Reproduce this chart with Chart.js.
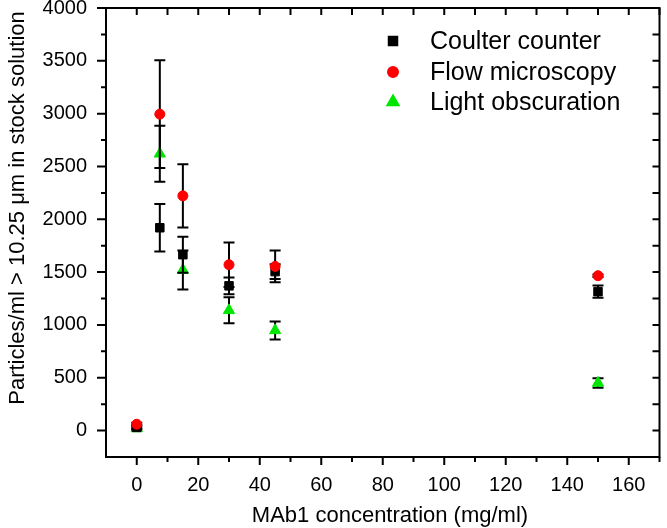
<!DOCTYPE html>
<html>
<head>
<meta charset="utf-8">
<script src="https://cdn.jsdelivr.net/npm/chart.js@4"></script>
<style>
  html, body { margin: 0; padding: 0; background: #fff; }
  canvas { display: block; }
</style>
</head>
<body>
<canvas id="grafico" width="667" height="528"></canvas>
<script>
const concentraciones = [0, 7.5, 15, 30, 45, 150];
const series = ['Coulter counter', 'Flow microscopy', 'Light obscuration'];
const coulter = [30, 1920, 1665, 1370, 1505, 1315];
const coulterErr = [20, 225, 170, 80, 70, 58];
const flow = [60, 2995, 2222, 1570, 1554, 1466];
const flowErr = [15, 510, 300, 210, 150, 12];
const light = [20, 2620, 1520, 1138, 948, 451];
const lightErr = [10, 265, 185, 123, 85, 45];
const xTicks = [0, 20, 40, 60, 80, 100, 120, 140, 160];
const yTicks = [0, 500, 1000, 1500, 2000, 2500, 3000, 3500, 4000];

const FONT = "'Liberation Sans', Arial, sans-serif";
Chart.defaults.font.family = FONT;
Chart.defaults.color = '#000';

function puntos(vals) {
    return concentraciones.map((x, i) => ({ x: x, y: vals[i] }));
}

// barras de error: debajo de los marcadores de cada serie
const barrasError = {
    id: 'barrasError',
    beforeDatasetDraw(chart, args) {
        const ds = chart.data.datasets[args.index];
        const { ctx, scales: { x, y } } = chart;
        ctx.save();
        ctx.strokeStyle = '#000';
        ctx.lineWidth = 2;
        ctx.beginPath();
        ds.data.forEach((p, i) => {
            const px = x.getPixelForValue(p.x);
            const top = y.getPixelForValue(p.y + ds.errores[i]);
            const bot = y.getPixelForValue(p.y - ds.errores[i]);
            ctx.moveTo(px, top); ctx.lineTo(px, bot);
            ctx.moveTo(px - 5.5, top); ctx.lineTo(px + 5.5, top);
            ctx.moveTo(px - 5.5, bot); ctx.lineTo(px + 5.5, bot);
        });
        ctx.stroke();
        ctx.restore();
    }
};

// marco, marcas de los ejes, titulos y leyenda
const marco = {
    id: 'marco',
    afterDraw(chart) {
        const { ctx, chartArea: a, scales: { x, y } } = chart;
        ctx.save();
        ctx.strokeStyle = '#000';
        ctx.lineWidth = 2;
        ctx.strokeRect(a.left, a.top, a.right - a.left, a.bottom - a.top);
        ctx.beginPath();
        for (let v = 0; v <= x.max; v += 10) {
            const px = x.getPixelForValue(v);
            const largo = v % 20 === 0 ? 8 : 5;
            ctx.moveTo(px, a.bottom); ctx.lineTo(px, a.bottom + largo);
            ctx.moveTo(px, a.top); ctx.lineTo(px, a.top + 7);
        }
        for (let v = 0; v <= y.max; v += 250) {
            const py = y.getPixelForValue(v);
            const largo = v % 500 === 0 ? 9 : 5;
            ctx.moveTo(a.left, py); ctx.lineTo(a.left - largo, py);
            ctx.moveTo(a.right, py); ctx.lineTo(a.right - 7, py);
        }
        ctx.stroke();

        // titulos
        ctx.fillStyle = '#000';
        ctx.font = '22px ' + FONT;
        ctx.textAlign = 'center';
        ctx.textBaseline = 'alphabetic';
        ctx.fillText('MAb1 concentration (mg/ml)', 390, 522);
        ctx.save();
        ctx.translate(24, 208);
        ctx.rotate(-Math.PI / 2);
        ctx.fillText('Particles/ml > 10.25 \u03bcm in stock solution', 0, 0);
        ctx.restore();

        // leyenda
        ctx.font = '25px ' + FONT;
        ctx.textAlign = 'left';
        const filas = [49, 80, 110];
        chart.data.datasets.forEach((ds, i) => {
            ctx.fillStyle = ds.backgroundColor;
            ctx.strokeStyle = ds.borderColor;
            Chart.helpers.drawPoint(ctx, {
                pointStyle: ds.pointStyle, radius: ds.pointRadius,
                borderWidth: 1, rotation: 0
            }, 393, filas[i] - 8);
            ctx.fillStyle = '#000';
            ctx.fillText(ds.label, 430, filas[i]);
        });
        ctx.restore();
    }
};

const ctx = document.getElementById('grafico').getContext('2d');
const chart = new Chart(ctx, {
    type: 'scatter',
    data: {
        datasets: [
            { label: series[0], data: puntos(coulter), errores: coulterErr, order: 1,
              pointStyle: 'rect', pointRadius: 6, borderWidth: 1,
              backgroundColor: '#000', borderColor: '#000' },
            { label: series[1], data: puntos(flow), errores: flowErr, order: 0,
              pointStyle: 'circle', pointRadius: 5, borderWidth: 1,
              backgroundColor: '#ff0000', borderColor: '#ff0000' },
            { label: series[2], data: puntos(light), errores: lightErr, order: 2,
              pointStyle: 'triangle', pointRadius: 6.5, borderWidth: 1,
              backgroundColor: '#00e600', borderColor: '#00e600' }
        ]
    },
    options: {
        responsive: false,
        animation: false,
        layout: { padding: { top: 8, right: 4, left: 0, bottom: 0 } },
        plugins: { legend: { display: false }, tooltip: { enabled: false } },
        scales: {
            x: {
                type: 'linear', min: -10, max: 170,
                grid: { display: false, drawTicks: false },
                border: { display: false },
                ticks: { font: { size: 20 }, padding: 16, maxRotation: 0, autoSkip: false,
                         callback: v => String(v) },
                afterBuildTicks: s => { s.ticks = xTicks.map(v => ({ value: v })); },
                afterFit: s => { s.height = 71; s.paddingLeft = 0; s.paddingRight = 0; }
            },
            y: {
                type: 'linear', min: -250, max: 4000,
                grid: { display: false, drawTicks: false },
                border: { display: false },
                ticks: { font: { size: 20 }, padding: 19, autoSkip: false,
                         callback: v => String(v) },
                afterBuildTicks: s => { s.ticks = yTicks.map(v => ({ value: v })); },
                afterFit: s => { s.width = 106; s.paddingTop = 0; s.paddingBottom = 0; }
            }
        }
    },
    plugins: [barrasError, marco]
});
</script>
</body>
</html>
